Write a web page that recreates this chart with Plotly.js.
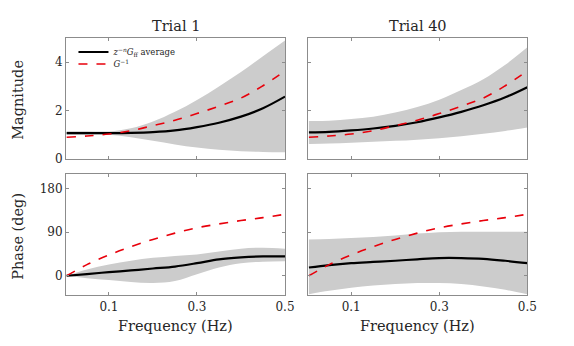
<!DOCTYPE html>
<html><head><meta charset="utf-8">
<script src="https://cdn.plot.ly/plotly-3.0.1.min.js"></script>
<style>body{margin:0;padding:0;background:#fff}#chart{width:574px;height:346px}</style>
</head><body><div id="chart"></div>
<script>
const freq = [0.004,0.05,0.1,0.15,0.2,0.25,0.3,0.35,0.4,0.45,0.5];
const invG_mag = [0.9,0.95,1.03,1.17,1.38,1.6,1.88,2.18,2.52,3.03,3.64];
const invG_phase = [0,23,43,60,75,88,99,107,114,120,127];

const t1_mag_avg = [1.07,1.07,1.07,1.08,1.11,1.18,1.32,1.5,1.75,2.1,2.58];
const t1_mag_hi  = [1.15,1.15,1.14,1.27,1.55,1.95,2.44,3.0,3.6,4.25,4.9];
const t1_mag_lo  = [1.0,1.0,1.0,0.9,0.75,0.6,0.47,0.38,0.32,0.29,0.28];

const t40_mag_avg = [1.1,1.12,1.18,1.26,1.37,1.52,1.72,1.95,2.22,2.55,2.97];
const t40_mag_hi  = [1.57,1.58,1.65,1.75,1.92,2.15,2.45,2.85,3.3,3.9,4.62];
const t40_mag_lo  = [0.62,0.64,0.67,0.71,0.75,0.8,0.86,0.94,1.04,1.16,1.3];

const t1_ph_avg = [0,3.5,7.5,11,15,19,26,34,38,40,40];
const t1_ph_hi  = [0,13,23,31,37,41,44,50,56,58,56];
const t1_ph_lo  = [0,-5,-9,-13,-15,-11,3,17,26,29,30];

const t40_ph_avg = [17,22,26,28.5,31,34,36.5,36.5,35,31,26];
const t40_ph_hi  = [75,76,78,80,83,87,90,91,91,91,91];
const t40_ph_lo  = [-38,-31,-25,-20,-17,-15,-15,-17,-22,-29,-38];

const titles = ['Trial 1','Trial 40'];
const magTicks = [0,2,4];
const phTicks = [0,90,180];
const fTicks = [0.1,0.3,0.5];

const BAND = '#cccccc';
const FONT = 'DejaVu Serif';
const TXT = '#262626';

function panel(xa, ya, hi, lo, avg, ref, legend){
  return [
    {x:freq, y:hi, xaxis:xa, yaxis:ya, mode:'lines', line:{width:0, shape:'spline', color:BAND}, showlegend:false, hoverinfo:'skip'},
    {x:freq, y:lo, xaxis:xa, yaxis:ya, mode:'lines', line:{width:0, shape:'spline', color:BAND}, fill:'tonexty', fillcolor:BAND, showlegend:false, hoverinfo:'skip'},
    {x:freq, y:avg, xaxis:xa, yaxis:ya, mode:'lines', line:{width:2.2, color:'#000', shape:'spline'}, name:'<i>z</i><sup>−<i>n</i></sup><i>G</i><sub>ff</sub> average', showlegend:legend, legend:'legend'},
    {x:freq, y:ref, xaxis:xa, yaxis:ya, mode:'lines', line:{width:1.6, color:'#e8000b', dash:'dash', shape:'spline'}, name:'<i>G</i><sup>−1</sup>', showlegend:legend, legend:'legend2'}
  ];
}

const data = [].concat(
  panel('x','y', t1_mag_hi, t1_mag_lo, t1_mag_avg, invG_mag, true),
  panel('x2','y2', t40_mag_hi, t40_mag_lo, t40_mag_avg, invG_mag, false),
  panel('x3','y3', t1_ph_hi, t1_ph_lo, t1_ph_avg, invG_phase, false),
  panel('x4','y4', t40_ph_hi, t40_ph_lo, t40_ph_avg, invG_phase, false)
);

const axBase = {showline:true, linecolor:'#8c8c8c', linewidth:1, mirror:'ticks', ticks:'inside', ticklen:3, tickcolor:'#8c8c8c',
  showgrid:false, zeroline:false, tickfont:{family:FONT, size:12, color:TXT}, fixedrange:true};
const xL = [0.115, 0.4965], xR = [0.537, 0.9187];
const yT = [0.5405, 0.890], yB = [0.147, 0.497];
const xr = [0.0025, 0.5];
const legBase = {xanchor:'left', yanchor:'middle', bgcolor:'rgba(0,0,0,0)', font:{family:FONT, size:8.5, color:TXT}, itemwidth:30, borderwidth:0};

function ann(text, x, y, extra){
  return Object.assign({text:text, x:x, y:y, xref:'paper', yref:'paper', xanchor:'center', yanchor:'middle', showarrow:false, font:{family:FONT, size:14.5, color:TXT}}, extra||{});
}

const layout = {
  width:574, height:346, margin:{l:0,r:0,t:0,b:0}, paper_bgcolor:'#fff', plot_bgcolor:'#fff',
  font:{family:FONT, color:TXT},
  showlegend:true,
  legend: Object.assign({}, legBase, {x:0.128, y:1-52/346}),
  legend2: Object.assign({}, legBase, {x:0.128, y:1-64/346}),
  xaxis: Object.assign({}, axBase, {domain:xL, range:xr, anchor:'y', tickvals:fTicks, showticklabels:false}),
  yaxis: Object.assign({}, axBase, {domain:yT, range:[0,5], anchor:'x', tickvals:magTicks}),
  xaxis2: Object.assign({}, axBase, {domain:xR, range:xr, anchor:'y2', tickvals:fTicks, showticklabels:false}),
  yaxis2: Object.assign({}, axBase, {domain:yT, range:[0,5], anchor:'x2', tickvals:magTicks, showticklabels:false}),
  xaxis3: Object.assign({}, axBase, {domain:xL, range:xr, anchor:'y3', tickvals:fTicks}),
  yaxis3: Object.assign({}, axBase, {domain:yB, range:[-40,210], anchor:'x3', tickvals:phTicks}),
  xaxis4: Object.assign({}, axBase, {domain:xR, range:xr, anchor:'y4', tickvals:fTicks}),
  yaxis4: Object.assign({}, axBase, {domain:yB, range:[-40,210], anchor:'x4', tickvals:phTicks, showticklabels:false}),
  annotations:[
    ann(titles[0], 0.306, 1-26/346),
    ann(titles[1], 0.728, 1-26/346),
    ann('Magnitude', 0.031, 1-100/346, {textangle:-90}),
    ann('Phase (deg)', 0.031, 1-236/346, {textangle:-90}),
    ann('Frequency (Hz)', 0.306, 1-326/346),
    ann('Frequency (Hz)', 0.728, 1-326/346)
  ]
};
Plotly.newPlot('chart', data, layout, {staticPlot:true, displayModeBar:false});
</script></body></html>
